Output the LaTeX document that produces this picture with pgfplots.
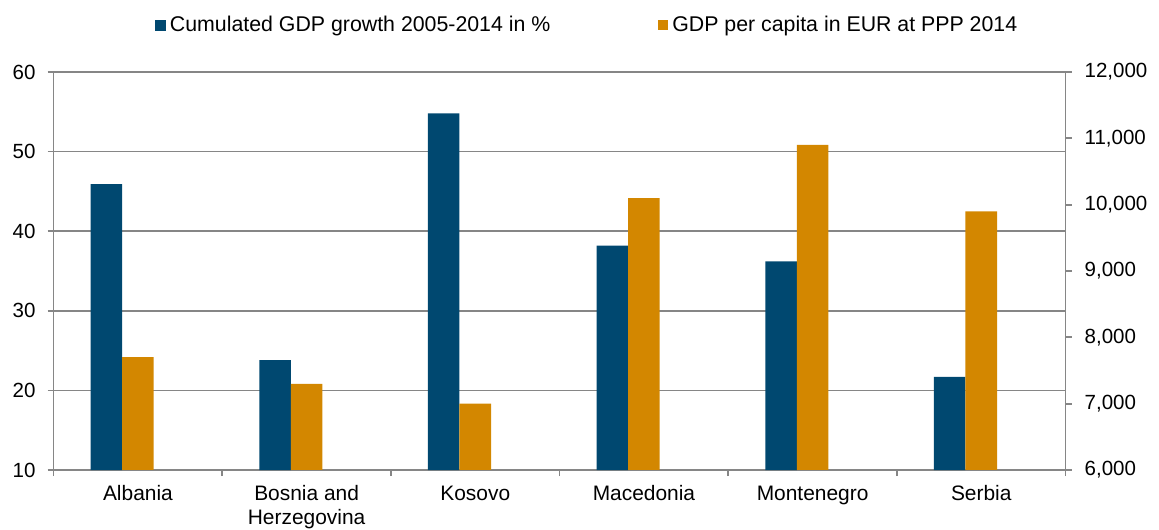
\documentclass[border=0pt]{standalone}
\usepackage{pgfplots}
\pgfplotsset{compat=1.18}
\usepackage{pgfplotstable}
\usepackage{fontspec}
\setmainfont{Liberation Sans}

\definecolor{gdpblue}{RGB}{0,72,112}
\definecolor{gdporange}{RGB}{211,135,0}
\definecolor{axisgray}{RGB}{134,134,134}

\pgfplotstableread{
idx growth gdppc
0 45.9 7700
1 23.8 7300
2 54.8 7000
3 38.2 10100
4 36.2 10900
5 21.7 9900
}\datatable

\pgfplotsset{
  base/.style={
    scale only axis, width=506bp, height=199bp,
    at={(0,0)}, anchor=south west,
    xmin=-0.5, xmax=5.5,
    tick align=outside,
    axis line style={axisgray, line width=0.9bp},
    every tick/.style={axisgray, line width=0.9bp},
    major tick length=3bp, minor tick length=3bp,
    tick label style={font=\fontsize{10.3}{12}\selectfont, text=black},
    /pgf/number format/assume math mode=true,
    /pgf/number format/1000 sep={,},
    scaled y ticks=false,
  }
}

\begin{document}
\begin{tikzpicture}
\useasboundingbox (-26.8bp,-30bp) rectangle (552.7bp,235bp);
% left axis: cumulated growth
\begin{axis}[base,
  axis x line*=bottom, axis y line*=left,
  ymin=10, ymax=60, ytick distance=10,
  ymajorgrids, grid style={axisgray, line width=0.9bp},
  yticklabel style={xshift=-2.5bp},
  xtick={0,...,5},
  xticklabels={\strut Albania,{\strut Bosnia and\\Herzegovina},\strut Kosovo,\strut Macedonia,\strut Montenegro,\strut Serbia},
  xticklabel style={align=center, yshift=-0.5bp, font=\fontsize{10.5}{11.8}\selectfont},
  major x tick style={draw=none},
  minor xtick={-0.5,0.5,...,5.5},
]
\addplot[ybar, bar width=0.187, bar shift=-0.187, fill=gdpblue, draw=none]
  table[x=idx, y=growth] {\datatable};
\end{axis}
% right axis: GDP per capita
\begin{axis}[base,
  axis x line=none, axis y line*=right,
  ymin=6000, ymax=12000, ytick distance=1000,
  yticklabel style={xshift=3bp},
  legend style={at={(0.1,1.118)}, anchor=west, draw=none, fill=none,
    inner sep=0pt, font=\fontsize{10.7}{12}\selectfont,
    /tikz/every even column/.append style={column sep=52bp}},
  legend columns=2, legend cell align=left,
]
\addlegendimage{legend image code/.code={\fill[gdpblue] (0bp,-2.5bp) rectangle (5bp,2.5bp);}}
\addlegendentry{Cumulated GDP growth 2005-2014 in \%}
\addplot[ybar, bar width=0.187, bar shift=0, fill=gdporange, draw=none,
  legend image code/.code={\fill[gdporange] (0bp,-2.5bp) rectangle (5bp,2.5bp);}]
  table[x=idx, y=gdppc] {\datatable};
\addlegendentry{GDP per capita in EUR at PPP 2014}
\end{axis}
\end{tikzpicture}
\end{document}
